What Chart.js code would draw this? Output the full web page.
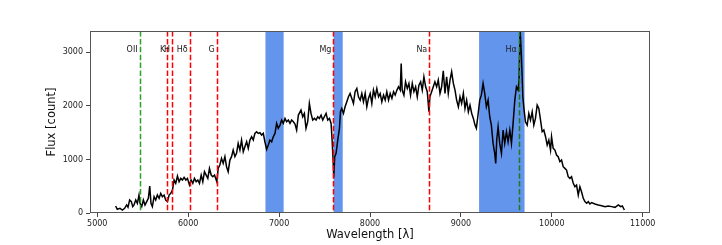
<!DOCTYPE html>
<html>
<head>
<meta charset="utf-8">
<script src="https://cdn.jsdelivr.net/npm/chart.js@4/dist/chart.umd.min.js"></script>
<style>
    html, body { margin: 0; padding: 0; background: #fff; }
    #wrap { width: 722px; height: 245px; }
</style>
</head>
<body>
<div id="wrap"><canvas id="chartSpectrum"></canvas></div>
<script>
// spectrum
const wavelength = [
    5202, 5220, 5250, 5276, 5301, 5323, 5338, 5356, 5375, 5390,
    5404, 5423, 5441, 5459, 5470, 5489, 5507, 5525, 5544, 5562,
    5577, 5591, 5606, 5625, 5643, 5661, 5680, 5698, 5716, 5735,
    5753, 5772, 5790, 5808, 5827, 5845, 5863, 5882, 5900, 5919,
    5937, 5955, 5974, 5992, 6014, 6032, 6051, 6069, 6088, 6106,
    6124, 6143, 6161, 6179, 6198, 6216, 6234, 6253, 6271, 6290,
    6315, 6330, 6348, 6367, 6385, 6404, 6422, 6440, 6459, 6477,
    6495, 6514, 6532, 6550, 6569, 6587, 6606, 6624, 6643, 6661,
    6679, 6698, 6716, 6734, 6753, 6771, 6789, 6808, 6826, 6844,
    6863, 6881, 6899, 6918, 6936, 6955, 6973, 6991, 7010, 7028,
    7046, 7065, 7083, 7102, 7120, 7138, 7157, 7175, 7193, 7212,
    7241, 7260, 7278, 7296, 7315, 7333, 7351, 7370, 7388, 7407,
    7425, 7443, 7462, 7480, 7498, 7517, 7535, 7554, 7572, 7583,
    7594, 7601, 7612, 7627, 7645, 7664, 7675, 7689, 7708, 7726,
    7745, 7763, 7781, 7800, 7818, 7836, 7855, 7873, 7892, 7910,
    7928, 7947, 7965, 7983, 8002, 8020, 8038, 8057, 8075, 8094,
    8112, 8130, 8149, 8167, 8185, 8204, 8222, 8241, 8259, 8277,
    8296, 8314, 8333, 8343, 8354, 8373, 8391, 8410, 8428, 8446,
    8465, 8483, 8502, 8520, 8538, 8557, 8575, 8593, 8612, 8630,
    8648, 8659, 8678, 8696, 8714, 8733, 8751, 8770, 8788, 8806,
    8825, 8843, 8861, 8880, 8898, 8917, 8935, 8953, 8972, 8990,
    9008, 9027, 9045, 9063, 9082, 9100, 9119, 9137, 9155, 9170,
    9188, 9207,
    9225, 9244, 9262, 9280, 9299, 9317, 9335, 9354, 9372, 9383,
    9394, 9409, 9427, 9446, 9464, 9482, 9501, 9519, 9538, 9556,
    9574, 9593, 9611, 9629, 9640, 9651, 9666, 9681, 9695, 9710,
    9729, 9747, 9765, 9784, 9802, 9820, 9839, 9857, 9876, 9894,
    9912, 9931, 9949, 9967, 9986, 9997, 10015, 10034, 10052, 10070,
    10089, 10107, 10125, 10144, 10162, 10180, 10199, 10217, 10236, 10254,
    10272, 10291, 10309, 10327, 10346, 10364, 10383, 10401, 10419, 10438,
    10474, 10511, 10548, 10585, 10621, 10658, 10695, 10732, 10757, 10776,
    10798
];
const flux = [
    131, 69, 87, 56, 87, 150, 106, 243, 212, 119,
    150, 243, 181, 336, 181, 119, 243, 150, 212, 274,
    504, 181, 119, 305, 243, 336, 274, 367, 305, 336,
    243, 212, 336, 367, 429, 616, 554, 691, 585, 647,
    616, 666, 616, 647, 523, 616, 554, 647, 585, 616,
    554, 709, 585, 772, 709, 647, 834, 709, 678, 709,
    585, 834, 896, 1021, 927, 1052, 865, 772, 989, 1052,
    1176, 1052, 1114, 1300, 1176, 1363, 1145, 1238, 1331, 1207,
    1363, 1425, 1363, 1487, 1518, 1487, 1499, 1456, 1487, 1331,
    1188, 1269, 1363, 1331, 1425, 1487, 1674, 1580, 1642, 1736,
    1674, 1767, 1705, 1736, 1674, 1736, 1705, 1661, 1549, 1829,
    1922, 1798, 1860, 1580, 1705, 2047, 1860, 1736, 1767, 1736,
    1798, 1767, 1829, 1736, 1798, 1860, 1736, 1767, 1674, 1363,
    989, 660, 1052, 1114, 1363, 1580, 1891, 1953, 1860, 1984,
    2078, 2171, 2233, 2140, 2047, 2265, 2327, 2171, 2109, 2233,
    2078, 2233, 1984, 2140, 2233, 2047, 2296, 2171, 2327, 2171,
    2233, 2078, 2202, 2109, 2265, 2109, 2233, 2140, 2265, 2202,
    2296, 2358, 2296, 2793, 2296, 2202, 2451, 2327, 2420, 2202,
    2420, 2265, 2358, 2171, 2389, 2451, 2296, 2544, 2358, 2265,
    1891, 2171, 2265, 2358, 2451, 2358, 2482, 2233, 2358, 2656,
    2233, 2544, 2233, 2482, 2638, 2420, 2296, 2109, 1984, 2171,
    2047, 2233, 1953, 2109, 1891, 2016, 1860, 1767, 1642, 1580,
    1829, 2109,
    2202, 2420, 2233, 1984, 2109, 1798, 1642, 1300, 1114, 927,
    1363, 1611, 1300, 1114, 1549, 1300, 1518, 1331, 1549, 1300,
    1674, 2109, 2358, 2296, 2482, 3450, 2918, 2171, 1922, 1705,
    1642, 1860, 1736, 1891, 1642, 1767, 2016, 1953, 1736, 1518,
    1549, 1425, 1269, 1363, 1176, 1425, 1207, 1176, 1083, 1052,
    958, 989, 865, 834, 803, 678, 647, 678, 554, 492,
    523, 336, 492, 398, 274, 212, 181, 212, 168, 193,
    168, 150, 137, 119, 131, 119, 106, 150, 119, 131,
    56
];

// marked lines and masked bands
const lineNames = ['OII', 'K', 'H', 'Hδ', 'G', 'Mg', 'Na', 'Hα'];
const lineWaves = [5466, 5771, 5822, 6017, 6314, 7597, 8652, 9637];
const lineColors = ['#2ca02c', 'red', 'red', 'red', 'red', 'red', 'red', '#1b7a1b'];
const bandStarts = [6850, 7600, 9200];
const bandEnds = [7050, 7700, 9700];

const xTicks = [5000, 6000, 7000, 8000, 9000, 10000, 11000];
const yTicks = [0, 1000, 2000, 3000];
const labelFlux = 3000;

const FONT = 'DejaVu Sans';

const spectrumPlugin = {
    id: 'spectrumExtras',
    beforeDatasetsDraw(chart) {
        const { ctx, chartArea, scales } = chart;
        ctx.save();
        ctx.fillStyle = '#6495ed';
        for (let i = 0; i < bandStarts.length; i++) {
            const x1 = scales.x.getPixelForValue(bandStarts[i]);
            const x2 = scales.x.getPixelForValue(bandEnds[i]);
            ctx.fillRect(x1, chartArea.top, x2 - x1, chartArea.bottom - chartArea.top);
        }
        ctx.restore();
    },
    afterDatasetsDraw(chart) {
        const { ctx, chartArea, scales } = chart;
        ctx.save();
        ctx.lineWidth = 1.5;
        ctx.setLineDash([5.5, 2.4]);
        for (let i = 0; i < lineWaves.length; i++) {
            const x = Math.round(scales.x.getPixelForValue(lineWaves[i])) + 0.5;
            ctx.strokeStyle = lineColors[i];
            ctx.beginPath();
            ctx.moveTo(x, chartArea.top);
            ctx.lineTo(x, chartArea.bottom);
            ctx.stroke();
        }
        ctx.setLineDash([]);
        ctx.fillStyle = '#222';
        ctx.font = '8px "' + FONT + '"';
        ctx.textAlign = 'right';
        ctx.textBaseline = 'alphabetic';
        const y = scales.y.getPixelForValue(labelFlux);
        for (let i = 0; i < lineNames.length; i++) {
            const x = scales.x.getPixelForValue(lineWaves[i]);
            ctx.fillText(lineNames[i], x - 2, y);
        }
        // frame around the axes
        ctx.strokeStyle = '#555';
        ctx.lineWidth = 1;
        ctx.strokeRect(chartArea.left + 0.5, chartArea.top + 0.5,
            chartArea.right - chartArea.left - 1, chartArea.bottom - chartArea.top - 1);
        ctx.restore();
    }
};

const points = [];
for (let i = 0; i < wavelength.length; i++) {
    points.push({ x: wavelength[i], y: flux[i] });
}

const config = {
    type: 'line',
    data: {
        datasets: [{
            data: points,
            borderColor: '#000',
            borderWidth: 1.5,
            pointRadius: 0,
            tension: 0,
            fill: false
        }]
    },
    options: {
        responsive: false,
        animation: false,
        layout: { padding: { left: 0, top: 31, right: 72, bottom: 0 } },
        plugins: {
            legend: { display: false },
            tooltip: { enabled: false }
        },
        scales: {
            x: {
                type: 'linear',
                min: 4920,
                max: 11080,
                afterBuildTicks: (s) => { s.ticks = xTicks.map(v => ({ value: v })); },
                afterFit: (s) => { s.height = 32; },
                grid: { drawOnChartArea: false, drawTicks: true, tickLength: 4, color: '#444' },
                border: { display: false },
                ticks: {
                    color: '#222',
                    font: { family: FONT, size: 8 },
                    padding: 2,
                    maxRotation: 0,
                    callback: (v) => String(v)
                },
                title: {
                    display: true,
                    text: 'Wavelength [λ]',
                    color: '#111',
                    font: { family: FONT, size: 11.5 },
                    padding: { top: 0, bottom: 3 }
                }
            },
            y: {
                min: 0,
                max: 3400,
                afterBuildTicks: (s) => { s.ticks = yTicks.map(v => ({ value: v })); },
                afterFit: (s) => { s.width = 90; },
                grid: { drawOnChartArea: false, drawTicks: true, tickLength: 4, color: '#444' },
                border: { display: false },
                ticks: {
                    color: '#222',
                    font: { family: FONT, size: 8 },
                    padding: 3,
                    callback: (v) => String(v)
                },
                title: {
                    display: true,
                    text: 'Flux [count]',
                    color: '#111',
                    font: { family: FONT, size: 11.5 },
                    padding: { top: 45, bottom: 0 }
                }
            }
        }
    },
    plugins: [spectrumPlugin]
};

const canvas = document.getElementById('chartSpectrum');
canvas.width = 722;
canvas.height = 245;
const chartSpectrum = new Chart(canvas, config);
</script>
</body>
</html>
